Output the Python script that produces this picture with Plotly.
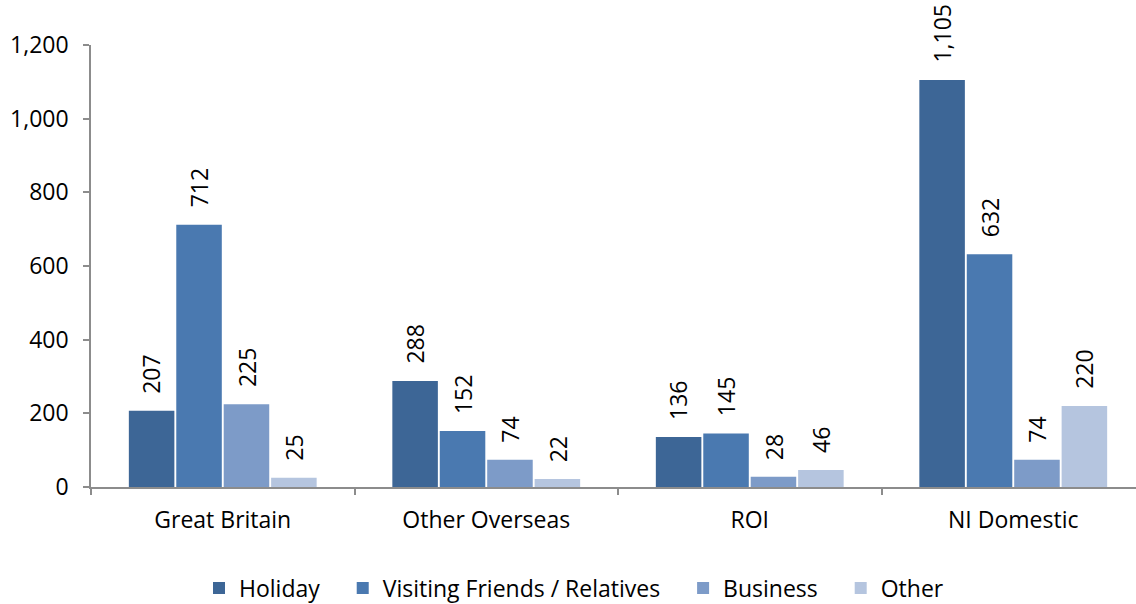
import plotly.graph_objects as go

# Trips by purpose and origin (thousands)
categories = ["Great Britain", "Other Overseas", "ROI", "NI Domestic"]
series_names = ["Holiday", "Visiting Friends / Relatives", "Business", "Other"]
holiday = [207, 288, 136, 1105]
visiting = [712, 152, 145, 632]
business = [225, 74, 28, 74]
other = [25, 22, 46, 220]
y_ticks = [0, 200, 400, 600, 800, 1000, 1200]

series_values = [holiday, visiting, business, other]
colors = ["#3D6696", "#4A79B0", "#7D9BC8", "#B5C5DF"]

FONT = "Open Sans"
FS = 23
BARGAP = 0.28
BARGROUPGAP = 0.04

W, H = 1136, 604
ML, MR, MT, MB = 91, 0, 45, 117
cat_px = 263.5
plot_w = W - ML - MR

# wider spacing between legend entries
PAD = "\u00a0" * 3

fig = go.Figure()
for k, (name, vals, col) in enumerate(zip(series_names, series_values, colors)):
    label = name + (PAD if k < len(series_names) - 1 else "")
    fig.add_trace(go.Bar(
        x=categories, y=vals, name=label,
        marker=dict(color=col, line=dict(width=0)),
        hoverinfo="skip",
    ))

# value labels above each bar, rotated
n = len(series_names)
group_w = 1 - BARGAP
slot = group_w / n
for i, vals in enumerate(series_values):
    off = -group_w / 2 + (i + 0.5) * slot
    for j, v in enumerate(vals):
        fig.add_annotation(
            x=j + off, y=v, xref="x", yref="y",
            text=f"{v:,}", textangle=-90, showarrow=False,
            xanchor="center", yanchor="bottom", yshift=15,
            font=dict(family=FONT, size=FS, color="#000000"),
        )

fig.update_layout(
    width=W, height=H,
    margin=dict(l=ML, r=MR, t=MT, b=MB, pad=0, autoexpand=False),
    paper_bgcolor="white", plot_bgcolor="white",
    barmode="group", bargap=BARGAP, bargroupgap=BARGROUPGAP,
    font=dict(family=FONT, size=FS, color="#000000"),
    showlegend=True,
    legend=dict(
        orientation="h",
        x=574 / W, xanchor="center", xref="container",
        y=1 - 588 / H, yanchor="middle", yref="container",
        font=dict(family=FONT, size=FS, color="#000000"),
        itemclick=False, itemdoubleclick=False,
    ),
    xaxis=dict(
        type="category",
        categoryorder="array", categoryarray=categories,
        range=[-0.5, -0.5 + plot_w / cat_px],
        showline=True, linecolor="#8C8C8C", linewidth=1.5,
        ticks="outside", tickson="boundaries", ticklen=6,
        tickcolor="#8C8C8C", tickwidth=1.5,
        showgrid=False, zeroline=False,
        tickfont=dict(family=FONT, size=FS, color="#000000"),
        ticklabelstandoff=12,
    ),
    yaxis=dict(
        range=[0, 1200], tickvals=y_ticks,
        tickformat=",d",
        showline=True, linecolor="#8C8C8C", linewidth=1.5,
        ticks="outside", ticklen=6, tickcolor="#8C8C8C", tickwidth=1.5,
        showgrid=False, zeroline=False,
        tickfont=dict(family=FONT, size=FS, color="#000000"),
        ticklabelstandoff=10,
    ),
)

fig.write_html("out.html")
